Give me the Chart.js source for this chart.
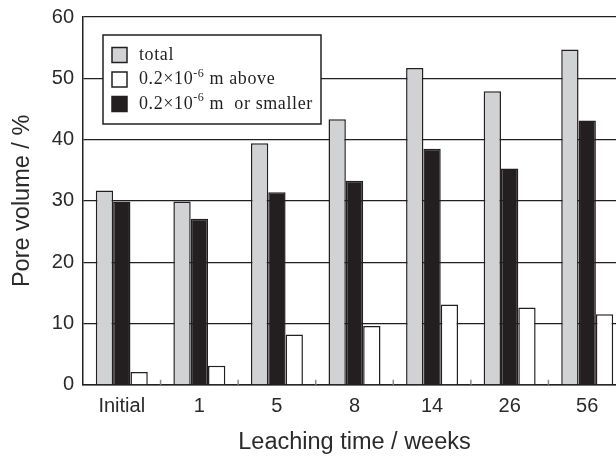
<!DOCTYPE html>
<html>
<head>
<meta charset="utf-8">
<script src="https://cdn.jsdelivr.net/npm/chart.js@4/dist/chart.umd.min.js"></script>
<style>
  html, body { margin: 0; padding: 0; background: #fff; overflow: hidden; }
  #wrap { width: 616px; height: 459px; overflow: hidden; }
</style>
</head>
<body>
<div id="wrap"><canvas id="canvas-1" width="630" height="459"></canvas></div>
<script>
const weeks = ["Initial", "1", "5", "8", "14", "26", "56"];
const total = [31.7, 29.9, 39.4, 43.3, 51.7, 47.9, 54.7];
const smaller = [29.9, 27.1, 31.4, 33.3, 38.5, 35.3, 43.1];
const above = [2.1, 3.1, 8.2, 9.6, 13.1, 12.6, 11.5];
const yTicks = [0, 10, 20, 30, 40, 50, 60];

const ink = "#231f20";
const sans = "'Liberation Sans', Arial, sans-serif";
const serif = "'Liberation Serif', 'Times New Roman', serif";

// legend box drawn inside the plot, like the original figure
const boxLegend = {
  id: "boxLegend",
  afterDatasetsDraw(chart) {
    const { ctx, chartArea } = chart;
    const x = chartArea.left + 20;
    const y = chartArea.top + 18;
    ctx.save();
    ctx.fillStyle = "#fff";
    ctx.fillRect(x, y, 218, 89);
    ctx.strokeStyle = ink;
    ctx.lineWidth = 1.5;
    ctx.strokeRect(x, y, 218, 89);

    const order = [0, 2, 1];
    order.forEach((di, row) => {
      const ds = chart.data.datasets[di];
      const cy = y + 20 + row * 24.5;
      ctx.fillStyle = ds.backgroundColor;
      ctx.fillRect(x + 9, cy - 7.5, 15, 15);
      ctx.strokeStyle = ink;
      ctx.lineWidth = 1.5;
      ctx.strokeRect(x + 9, cy - 7.5, 15, 15);

      ctx.fillStyle = ink;
      ctx.textBaseline = "middle";
      ctx.letterSpacing = "0.6px";
      let tx = x + 36;
      ds.legendParts.forEach((part) => {
        if (part.sup) {
          ctx.font = "12px " + serif;
          ctx.fillText(part.text, tx, cy - 6);
        } else {
          ctx.font = "18px " + serif;
          ctx.fillText(part.text, tx, cy);
        }
        tx += ctx.measureText(part.text).width;
      });
    });
    ctx.restore();
  },
};

// short inward ticks between the groups on the x axis
const groupTicks = {
  id: "groupTicks",
  afterDatasetsDraw(chart) {
    const { ctx } = chart;
    const xs = chart.scales.x;
    const y0 = chart.scales.y.getPixelForValue(0);
    ctx.save();
    ctx.strokeStyle = "#8a8a8a";
    ctx.lineWidth = 1.5;
    for (let i = 1; i < weeks.length; i++) {
      const px = (xs.getPixelForValue(i - 1) + xs.getPixelForValue(i)) / 2;
      ctx.beginPath();
      ctx.moveTo(px, y0);
      ctx.lineTo(px, y0 - 5);
      ctx.stroke();
    }
    ctx.restore();
  },
};

const barChart = new Chart(document.getElementById("canvas-1"), {
  type: "bar",
  data: {
    labels: weeks,
    datasets: [
      {
        label: "total",
        legendParts: [{ text: "total" }],
        data: total,
        backgroundColor: "#d0d2d3",
        borderColor: ink,
        borderWidth: 1.5,
      },
      {
        label: "0.2×10-6 m or smaller",
        legendParts: [
          { text: "0.2×10" },
          { text: "-6", sup: true },
          { text: " m  or smaller" },
        ],
        data: smaller,
        backgroundColor: ink,
        borderColor: ink,
        borderWidth: 1.5,
      },
      {
        label: "0.2×10-6 m above",
        legendParts: [
          { text: "0.2×10" },
          { text: "-6", sup: true },
          { text: " m above" },
        ],
        data: above,
        backgroundColor: "#ffffff",
        borderColor: ink,
        borderWidth: 1.5,
      },
    ],
  },
  options: {
    responsive: false,
    animation: false,
    devicePixelRatio: 1,
    categoryPercentage: 0.67,
    barPercentage: 1.0,
    layout: { padding: { top: 17, right: 4, bottom: 0, left: 0 } },
    plugins: {
      legend: { display: false },
      tooltip: { enabled: false },
    },
    scales: {
      x: {
        grid: { display: false, drawTicks: false },
        border: { display: true, color: ink, width: 1.5 },
        ticks: {
          color: "#2a2a2a",
          padding: 10,
          maxRotation: 0,
          font: { family: sans, size: 20 },
        },
        title: {
          display: true,
          text: "Leaching time / weeks",
          color: "#2a2a2a",
          font: { family: sans, size: 23.5 },
          padding: { top: 0, bottom: 2 },
        },
      },
      y: {
        min: 0,
        max: 60,
        afterFit(scale) {
          scale.width = 83;
        },
        afterBuildTicks(scale) {
          scale.ticks = yTicks.map((v) => ({ value: v }));
        },
        grid: { color: ink, lineWidth: 1.3, drawTicks: false },
        border: { display: true, color: ink, width: 1.5 },
        ticks: {
          color: "#2a2a2a",
          padding: 9,
          font: { family: sans, size: 20, lineHeight: 0.8 },
        },
        title: {
          display: true,
          text: "Pore volume / %",
          color: "#2a2a2a",
          font: { family: sans, size: 23.5 },
          padding: { top: 8, bottom: 0 },
        },
      },
    },
  },
  plugins: [boxLegend, groupTicks],
});
</script>
</body>
</html>
